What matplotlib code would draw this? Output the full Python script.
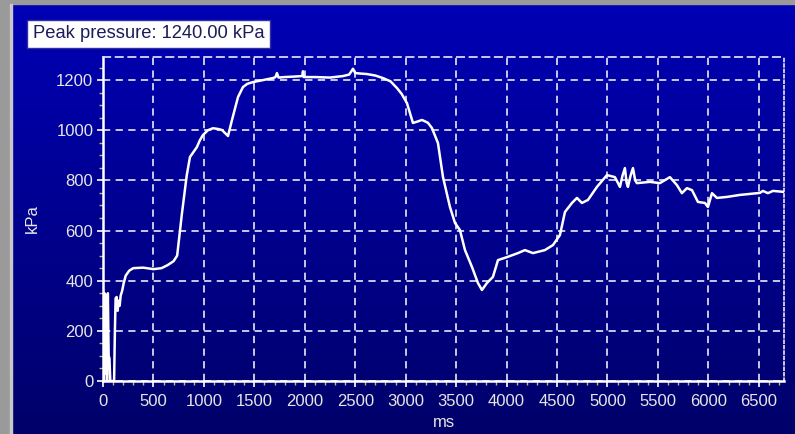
import numpy as np
import matplotlib
matplotlib.use("Agg")
import matplotlib.pyplot as plt
from matplotlib.patches import Rectangle
from matplotlib.ticker import MultipleLocator

# Pressure trace: time in ms, pressure in kPa
time_ms = [0, 8, 16, 24, 32, 40, 48, 56, 64, 72, 85, 100, 110, 118, 125, 135, 145,
           155, 165, 175, 190, 205, 225, 260, 300, 400, 500, 580, 640, 700, 735,
           783, 830, 862, 900, 931, 960, 991, 1040, 1090, 1140, 1179, 1239, 1278,
           1338, 1387, 1430, 1487, 1560, 1685, 1710, 1724, 1740, 1800, 1900, 1975,
           1982, 1990, 2100, 2250, 2379, 2440, 2478, 2500, 2550, 2617, 2700, 2775,
           2850, 2914, 2960, 3013, 3072, 3120, 3161, 3220, 3260, 3320, 3370, 3439,
           3489, 3538, 3588, 3657, 3716, 3756, 3806, 3865, 3915, 4004, 4113, 4182,
           4262, 4380, 4460, 4529, 4579, 4648, 4698, 4747, 4807, 4896, 4995, 5074,
           5124, 5150, 5173, 5190, 5203, 5230, 5253, 5275, 5292, 5421, 5520, 5619,
           5689, 5738, 5788, 5838, 5897, 5966, 5996, 6036, 6085, 6184, 6313, 6511,
           6541, 6591, 6640, 6739, 6750]
pressure_kpa = [360, 0, 350, 30, 340, 0, 350, 100, 90, 0, 0, 0, 0, 200, 330, 335, 280,
                320, 300, 340, 360, 390, 420, 440, 450, 452, 446, 450, 462, 478, 500,
                670, 820, 893, 915, 933, 960, 981, 1000, 1008, 1005, 1001, 977, 1040,
                1132, 1172, 1185, 1192, 1198, 1208, 1212, 1228, 1210, 1212, 1214, 1216,
                1235, 1212, 1212, 1210, 1216, 1222, 1245, 1228, 1226, 1224, 1218, 1208,
                1195, 1168, 1145, 1108, 1029, 1035, 1041, 1030, 1009, 949, 813, 694,
                630, 602, 522, 455, 391, 363, 391, 415, 482, 494, 510, 522, 510, 522,
                542, 582, 674, 710, 730, 710, 722, 774, 821, 813, 774, 820, 849, 790,
                774, 820, 849, 800, 789, 794, 789, 813, 781, 749, 769, 761, 714, 710,
                694, 749, 730, 734, 742, 750, 758, 749, 758, 754, 754]

peak_label = "Peak pressure: 1240.00 kPa"
x_ticks = [0, 500, 1000, 1500, 2000, 2500, 3000, 3500, 4000, 4500, 5000, 5500, 6000, 6500]
y_ticks = [0, 200, 400, 600, 800, 1000, 1200]

W, H = 795, 434
fig = plt.figure(figsize=(W / 100, H / 100), dpi=100)
plt.rcParams['font.family'] = ['Liberation Sans', 'DejaVu Sans']

# Vertical blue gradient across the whole figure
bg = fig.add_axes([0, 0, 1, 1], zorder=0)
grad = np.linspace(0, 1, 256).reshape(-1, 1)
top = np.array([0x00, 0x00, 0xB6]) / 255
bot = np.array([0x00, 0x00, 0x6A]) / 255
img = top[None, None, :] * (1 - grad[:, :, None]) + bot[None, None, :] * grad[:, :, None]
bg.imshow(img, aspect='auto', extent=[0, 1, 0, 1], origin='upper')
bg.set_xlim(0, 1)
bg.set_ylim(0, 1)
bg.axis('off')
# grey window frame on the left and top
bg.add_patch(Rectangle((0, 0), 10 / W, 1, color='#9a9a9a', zorder=3))
bg.add_patch(Rectangle((0, 1 - 4 / H), 1, 4 / H, color='#9a9a9a', zorder=3))
bg.add_patch(Rectangle((10 / W, 0), 1.5 / W, 1 - 4 / H, color='#c8c8c8', zorder=3))

ax = fig.add_axes([103 / W, 1 - 381 / H, (784 - 103) / W, (381 - 57) / H], zorder=1)
ax.patch.set_alpha(0)

ax.plot(time_ms, pressure_kpa, color='white', lw=1.8, zorder=3, solid_joinstyle='round')

ax.set_xlim(0, 6750)
ax.set_ylim(0, 1292)
ax.set_xticks(x_ticks)
ax.set_yticks(y_ticks)
ax.xaxis.set_minor_locator(MultipleLocator(100))
ax.yaxis.set_minor_locator(MultipleLocator(50))

grid_kw = dict(color='#d8d8f0', lw=1.3, dashes=(4, 3))
ax.grid(True, which='major', **grid_kw)

for s in ['left', 'bottom']:
    ax.spines[s].set_color('white')
    ax.spines[s].set_linewidth(1.8)
ax.spines['top'].set_color('#d8d8f0')
ax.spines['top'].set_linewidth(1.3)
ax.spines['top'].set_linestyle((0, (4, 3)))
ax.spines['right'].set_color('#d8d8f0')
ax.spines['right'].set_linewidth(1.3)
ax.spines['right'].set_linestyle((0, (1.5, 1.5)))

ax.tick_params(which='major', colors='white', labelcolor='#e6e6e6', length=4,
               width=1.2, labelsize=12)
ax.tick_params(which='minor', colors='#b8b878', length=3, width=1)
ax.tick_params(axis='x', pad=5)
ax.tick_params(axis='y', pad=3)

ax.set_xlabel('ms', color='#e6e6e6', fontsize=12, labelpad=5)
ax.set_ylabel('kPa', color='#e6e6e6', fontsize=12, labelpad=12)

fig.text(33 / W, 1 - 34 / H, peak_label, fontsize=13.2, color='#1c1c5a',
         ha='left', va='center',
         bbox=dict(boxstyle='square,pad=0.32', fc='white', ec='#3030a0', lw=1))

fig.savefig('out.png', dpi=100)
